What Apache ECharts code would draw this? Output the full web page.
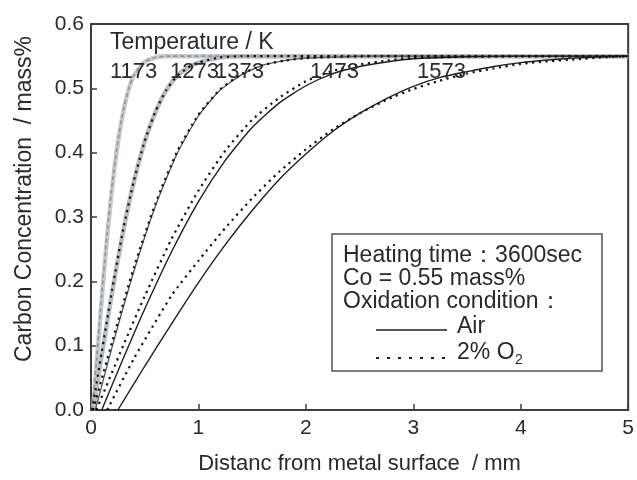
<!DOCTYPE html>
<html>
<head>
<meta charset="utf-8">
<script src="https://cdn.jsdelivr.net/npm/echarts@6/dist/echarts.min.js"></script>
<style>html,body{margin:0;padding:0;background:#fff}#c{width:637px;height:480px}</style>
</head>
<body>
<div id="c"></div>
<script>
// ---- data ----
const xTicks = [0, 1, 2, 3, 4, 5];
const yTicks = [0.0, 0.1, 0.2, 0.3, 0.4, 0.5, 0.6];
const temperatures = ['1173', '1273', '1373', '1473', '1573'];

const x1173Air = [0.02, 0.05, 0.1, 0.15, 0.2, 0.25, 0.3, 0.35, 0.4, 0.5, 0.6, 0.7, 1.0, 2.0, 3.0, 4.0, 5.0];
const y1173Air = [0, 0.066, 0.173, 0.268, 0.350, 0.415, 0.463, 0.498, 0.520, 0.541, 0.548, 0.550, 0.550, 0.550, 0.550, 0.550, 0.550];
const x1173O2  = [0.01, 0.05, 0.1, 0.15, 0.2, 0.25, 0.3, 0.35, 0.4, 0.5, 0.6, 0.7, 1.0, 2.0, 3.0, 4.0, 5.0];
const y1173O2  = [0, 0.075, 0.180, 0.275, 0.355, 0.418, 0.465, 0.499, 0.521, 0.541, 0.548, 0.550, 0.550, 0.550, 0.550, 0.550, 0.550];

const x1273Air = [0.02, 0.1, 0.2, 0.3, 0.4, 0.5, 0.6, 0.7, 0.8, 0.9, 1.0, 1.2, 1.4, 2.0, 3.0, 4.0, 5.0];
const y1273Air = [0, 0.085, 0.186, 0.278, 0.355, 0.417, 0.463, 0.497, 0.519, 0.532, 0.540, 0.548, 0.550, 0.550, 0.550, 0.550, 0.550];
const x1273O2  = [0.01, 0.1, 0.2, 0.3, 0.4, 0.5, 0.6, 0.7, 0.8, 0.9, 1.0, 1.2, 1.4, 2.0, 3.0, 4.0, 5.0];
const y1273O2  = [0, 0.090, 0.190, 0.281, 0.357, 0.418, 0.464, 0.497, 0.519, 0.532, 0.540, 0.548, 0.550, 0.550, 0.550, 0.550, 0.550];

const x1373Air = [0.04, 0.2, 0.4, 0.6, 0.8, 1.0, 1.2, 1.4, 1.6, 1.8, 2.0, 2.3, 2.6, 3.0, 4.0, 5.0];
const y1373Air = [0, 0.100, 0.216, 0.317, 0.398, 0.457, 0.497, 0.521, 0.536, 0.543, 0.547, 0.549, 0.550, 0.550, 0.550, 0.550];
const x1373O2  = [0.02, 0.2, 0.4, 0.6, 0.8, 1.0, 1.2, 1.4, 1.6, 1.8, 2.0, 2.3, 2.6, 3.0, 4.0, 5.0];
const y1373O2  = [0, 0.108, 0.222, 0.321, 0.401, 0.459, 0.498, 0.522, 0.536, 0.543, 0.547, 0.549, 0.550, 0.550, 0.550, 0.550];

const x1473Air = [0.1, 0.3, 0.5, 0.75, 1.0, 1.25, 1.5, 1.75, 2.0, 2.25, 2.5, 2.75, 3.0, 3.5, 4.0, 5.0];
const y1473Air = [0, 0.080, 0.157, 0.246, 0.324, 0.388, 0.439, 0.477, 0.504, 0.523, 0.534, 0.541, 0.546, 0.549, 0.550, 0.550];
const x1473O2  = [0.05, 0.3, 0.5, 0.75, 1.0, 1.25, 1.5, 1.75, 2.0, 2.25, 2.5, 2.75, 3.0, 3.5, 4.0, 5.0];
const y1473O2  = [0, 0.100, 0.177, 0.266, 0.341, 0.403, 0.451, 0.485, 0.511, 0.527, 0.537, 0.543, 0.547, 0.549, 0.550, 0.550];

const x1573Air = [0.25, 0.5, 0.75, 1.0, 1.25, 1.5, 1.75, 2.0, 2.25, 2.5, 2.75, 3.0, 3.25, 3.5, 3.75, 4.0, 4.25, 4.5, 4.75, 5.0];
const y1573Air = [0, 0.068, 0.134, 0.198, 0.257, 0.310, 0.358, 0.398, 0.433, 0.461, 0.484, 0.503, 0.517, 0.526, 0.534, 0.540, 0.544, 0.547, 0.549, 0.550];
const x1573O2  = [0.15, 0.4, 0.75, 1.0, 1.25, 1.5, 1.75, 2.0, 2.25, 2.5, 2.75, 3.0, 3.25, 3.5, 3.75, 4.0, 4.25, 4.5, 4.75, 5.0];
const y1573O2  = [0, 0.080, 0.178, 0.232, 0.283, 0.329, 0.370, 0.405, 0.436, 0.461, 0.482, 0.499, 0.512, 0.523, 0.531, 0.538, 0.542, 0.545, 0.548, 0.550];

// ---- build ----
const FONT = '"Liberation Sans", Arial, Helvetica, sans-serif';
const TXT = '#2a2a2a';
const AX = '#3c3c3c';
function pairs(xs, ys) { return xs.map((x, i) => [x, ys[i]]); }
function line(name, xs, ys, style, z) {
  return { name, type: 'line', data: pairs(xs, ys), showSymbol: false, symbol: 'none',
    smooth: 0.2, lineStyle: style, z: z || 2, silent: true, animation: false };
}
const DOT = { color: '#111', width: 2.2, type: [2.2, 4.5] };
const SOLID = { color: '#1e1e1e', width: 1.4 };

const series = [
  line('1173 Air', x1173Air, y1173Air, { color: '#c6cacf', width: 4.5 }, 2),
  line('1273 Air', x1273Air, y1273Air, { color: '#b9bdc2', width: 4.5 }, 2),
  line('1173 O2', x1173O2, y1173O2, { color: '#8f9398', width: 1.6, type: [4, 3] }, 3),
  line('1273 O2', x1273O2, y1273O2, DOT, 3),
  line('1373 Air', x1373Air, y1373Air, { color: '#555', width: 1.3 }, 3),
  line('1373 O2', x1373O2, y1373O2, DOT, 4),
  line('1473 Air', x1473Air, y1473Air, SOLID, 3),
  line('1473 O2', x1473O2, y1473O2, DOT, 4),
  line('1573 Air', x1573Air, y1573Air, SOLID, 3),
  line('1573 O2', x1573O2, y1573O2, DOT, 4)
];

const tempX = [110, 170, 215, 310, 417];
const graphics = [
  { type: 'text', left: 110, top: 31, z: 10, style: { text: 'Temperature / K', font: '23px ' + FONT, fill: TXT } },
  ...temperatures.map((t, i) => ({ type: 'text', left: tempX[i], top: 61, z: 10,
     style: { text: t, font: '22px ' + FONT, fill: TXT } })),
  { type: 'rect', z: 10, shape: { x: 332, y: 234, width: 270, height: 137 },
    style: { fill: '#fff', stroke: '#555', lineWidth: 1.5 } },
  { type: 'text', z: 11, x: 343, y: 256, style: { text: 'Heating time：3600sec', font: '23px ' + FONT, fill: TXT, verticalAlign: 'middle' } },
  { type: 'text', z: 11, x: 343, y: 279, style: { text: 'Co = 0.55 mass%', font: '23px ' + FONT, fill: TXT, verticalAlign: 'middle' } },
  { type: 'text', z: 11, x: 343, y: 302, style: { text: 'Oxidation condition：', font: '23px ' + FONT, fill: TXT, verticalAlign: 'middle' } },
  { type: 'line', z: 11, shape: { x1: 376, y1: 330, x2: 447, y2: 330 }, style: { stroke: '#1e1e1e', lineWidth: 1.5 } },
  { type: 'text', z: 11, x: 457, y: 327, style: { text: 'Air', font: '23px ' + FONT, fill: TXT, verticalAlign: 'middle' } },
  { type: 'line', z: 11, shape: { x1: 376, y1: 358, x2: 447, y2: 358 }, style: { stroke: '#1e1e1e', lineWidth: 2, lineDash: [3, 8] } },
  { type: 'text', z: 11, x: 457, y: 353, style: { text: '2% O', font: '23px ' + FONT, fill: TXT, verticalAlign: 'middle' } },
  { type: 'text', z: 11, x: 515, y: 360, style: { text: '2', font: '14px ' + FONT, fill: TXT, verticalAlign: 'middle' } },
  { type: 'text', z: 11, x: 25, y: 199, rotation: Math.PI / 2,
    style: { text: 'Carbon Concentration  / mass%', font: '23px ' + FONT, fill: TXT, align: 'center', verticalAlign: 'middle' } }
];

const chart = echarts.init(document.getElementById('c'), null, { renderer: 'canvas' });
chart.setOption({
  animation: false,
  backgroundColor: '#fff',
  grid: { left: 91, right: 5, top: 24, bottom: 64, show: true, borderColor: AX, borderWidth: 2, backgroundColor: 'transparent' },
  xAxis: {
    type: 'value', min: xTicks[0], max: xTicks[xTicks.length - 1], interval: 1,
    name: 'Distanc from metal surface  / mm', nameLocation: 'middle', nameGap: 43,
    nameTextStyle: { fontFamily: FONT, fontSize: 22, color: TXT },
    axisLine: { show: true, lineStyle: { color: AX, width: 2 } },
    axisTick: { show: true, inside: true, length: 6, lineStyle: { color: AX, width: 1.5 } },
    axisLabel: { fontFamily: FONT, fontSize: 21, color: TXT, margin: 8, formatter: v => String(v) },
    splitLine: { show: false }
  },
  yAxis: {
    type: 'value', min: yTicks[0], max: yTicks[yTicks.length - 1], interval: 0.1,
    axisLine: { show: true, lineStyle: { color: AX, width: 2 } },
    axisTick: { show: true, inside: true, length: 6, lineStyle: { color: AX, width: 1.5 } },
    axisLabel: { fontFamily: FONT, fontSize: 21, color: TXT, margin: 7, formatter: v => v.toFixed(1) },
    splitLine: { show: false }
  },
  series,
  graphic: graphics
});
</script>
</body>
</html>
